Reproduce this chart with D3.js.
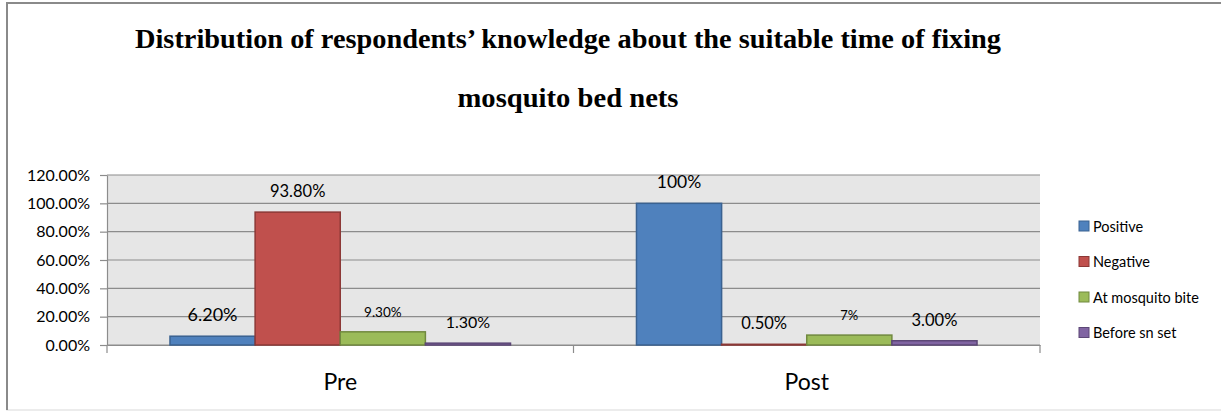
<!DOCTYPE html>
<html>
<head>
<meta charset="utf-8">
<script src="https://cdn.jsdelivr.net/npm/d3@7"></script>
<style>
  body { margin: 0; background: #fff; }
  svg { display: block; }
  .axis text { font-family: Lato, "Open Sans", sans-serif; fill: #000; }
</style>
</head>
<body>
<script>
// Chart data
var categories = ["Pre", "Post"];
var series = ["Positive", "Negative", "At mosquito bite", "Before sn set"];
var preValues = [6.2, 93.8, 9.3, 1.3];
var postValues = [100, 0.5, 7, 3.0];
var preLabels = ["6.20%", "93.80%", "9.30%", "1.30%"];
var postLabels = ["100%", "0.50%", "7%", "3.00%"];
var yTicks = [0, 20, 40, 60, 80, 100, 120];
var yTickLabels = ["0.00%", "20.00%", "40.00%", "60.00%", "80.00%", "100.00%", "120.00%"];

var titleLines = [
  "Distribution of respondents\u2019 knowledge about the suitable time of fixing",
  "mosquito bed nets"
];

// styles
var fillColors = ["#4f81bd", "#c0504d", "#9bbb59", "#8064a2"];
var strokeColors = ["#3a6291", "#8c3836", "#71893f", "#5c4776"];
// the data labels were sized by hand in the original
var labelSizes = { Pre: [18, 16.5, 13.5, 16], Post: [17.5, 16.5, 13, 16.5] };

var width = 1221, height = 412;
var plot = { left: 107, right: 1040, top: 175, bottom: 345 };

var svg = d3.select("body")
    .append("svg")
    .attr("width", width)
    .attr("height", height);

// outer frame
svg.append("rect")
    .attr("x", 7).attr("y", 3)
    .attr("width", width + 10).attr("height", 407)
    .attr("fill", "#fff")
    .attr("stroke", "#e6e6e6")
    .attr("stroke-width", 1.5);
svg.append("path")
    .attr("d", "M7,410V3H" + width)
    .attr("fill", "none")
    .attr("stroke", "#8a8a8a")
    .attr("stroke-width", 2);

// title
var titleTexts = svg.selectAll(".title")
    .data(titleLines)
    .enter()
    .append("text")
    .attr("class", "title")
    .attr("x", 568)
    .attr("y", function(d, i) { return i == 0 ? 48 : 107; })
    .attr("text-anchor", "middle")
    .attr("font-family", "'Liberation Serif', 'Times New Roman', serif")
    .attr("font-weight", "bold")
    .attr("font-size", 27)
    .text(function(d) { return d; });
titleTexts.filter(function(d, i) { return i == 0; })
    .attr("textLength", 866)
    .attr("lengthAdjust", "spacingAndGlyphs");
titleTexts.filter(function(d, i) { return i == 1; })
    .attr("textLength", 221)
    .attr("lengthAdjust", "spacingAndGlyphs");

// scales
var x0 = d3.scaleBand()
    .domain(categories)
    .range([plot.left, plot.right])
    .paddingInner(0.27)
    .paddingOuter(0.135);

var x1 = d3.scaleBand()
    .domain(series)
    .range([0, x0.bandwidth()]);

var yScale = d3.scaleLinear()
    .domain([0, 120])
    .range([plot.bottom, plot.top]);

// plot background
svg.append("rect")
    .attr("x", plot.left)
    .attr("y", plot.top)
    .attr("width", plot.right - plot.left)
    .attr("height", plot.bottom - plot.top)
    .attr("fill", "#e6e6e6");

// gridlines
svg.selectAll(".grid")
    .data(yTicks)
    .enter()
    .append("line")
    .attr("class", "grid")
    .attr("x1", plot.left)
    .attr("x2", plot.right)
    .attr("y1", function(d) { return yScale(d); })
    .attr("y2", function(d) { return yScale(d); })
    .attr("stroke", "#8c8c8c")
    .attr("stroke-width", 1.2);

// y axis
var yAxis = d3.axisLeft(yScale)
    .tickValues(yTicks)
    .tickFormat(function(d, i) { return yTickLabels[i]; })
    .tickSize(7)
    .tickSizeOuter(0)
    .tickPadding(10);

var gy = svg.append("g")
    .attr("class", "axis")
    .attr("transform", "translate(" + plot.left + ",0)")
    .call(yAxis);
gy.selectAll("text").attr("font-size", 16);
gy.selectAll("line, path").attr("stroke", "#8c8c8c").attr("stroke-width", 1.2);

// x axis
var xAxis = d3.axisBottom(x0)
    .tickSize(0)
    .tickPadding(29);

var gx = svg.append("g")
    .attr("class", "axis")
    .attr("transform", "translate(0," + plot.bottom + ")")
    .call(xAxis);
gx.selectAll("text").attr("font-size", 23);
gx.select(".domain").attr("stroke", "#8c8c8c").attr("stroke-width", 1.2);

// category boundary ticks
var step = x0.step();
var boundaries = [plot.left, plot.left + step, plot.right];
gx.selectAll(".bound")
    .data(boundaries)
    .enter()
    .append("line")
    .attr("x1", function(d) { return d; })
    .attr("x2", function(d) { return d; })
    .attr("y1", 0)
    .attr("y2", 8)
    .attr("stroke", "#8c8c8c")
    .attr("stroke-width", 1.2);

// bars
var rows = categories.map(function(c, ci) {
  var vals = ci == 0 ? preValues : postValues;
  var labs = ci == 0 ? preLabels : postLabels;
  return series.map(function(s, si) {
    return { cat: c, series: s, si: si, value: vals[si], label: labs[si], size: labelSizes[c][si] };
  });
});

var groups = svg.selectAll(".group")
    .data(rows)
    .enter()
    .append("g")
    .attr("class", "group")
    .attr("transform", function(d, i) { return "translate(" + x0(categories[i]) + ",0)"; });

groups.selectAll("rect")
    .data(function(d) { return d; })
    .enter()
    .append("rect")
    .attr("x", function(d) { return x1(d.series); })
    .attr("y", function(d) { return yScale(d.value); })
    .attr("width", x1.bandwidth())
    .attr("height", function(d) { return yScale(0) - yScale(d.value); })
    .attr("fill", function(d) { return fillColors[d.si]; })
    .attr("stroke", function(d) { return strokeColors[d.si]; })
    .attr("stroke-width", 1.5);

groups.selectAll(".vlabel")
    .data(function(d) { return d; })
    .enter()
    .append("text")
    .attr("class", "vlabel")
    .attr("x", function(d) { return x1(d.series) + x1.bandwidth() / 2; })
    .attr("y", function(d) { return yScale(d.value) - 15; })
    .attr("text-anchor", "middle")
    .attr("font-family", "Lato, 'Open Sans', sans-serif")
    .attr("font-size", function(d) { return d.size; })
    .text(function(d) { return d.label; });

// legend
var legend = svg.selectAll(".legend")
    .data(series)
    .enter()
    .append("g")
    .attr("class", "legend")
    .attr("transform", function(d, i) { return "translate(1079," + (221 + i * 35.5) + ")"; });

legend.append("rect")
    .attr("width", 10)
    .attr("height", 10)
    .attr("fill", function(d, i) { return fillColors[i]; })
    .attr("stroke", function(d, i) { return strokeColors[i]; })
    .attr("stroke-width", 1);

legend.append("text")
    .attr("x", 14)
    .attr("y", 10.5)
    .attr("font-family", "Lato, 'Open Sans', sans-serif")
    .attr("font-size", 14.5)
    .text(function(d) { return d; });
</script>
</body>
</html>
